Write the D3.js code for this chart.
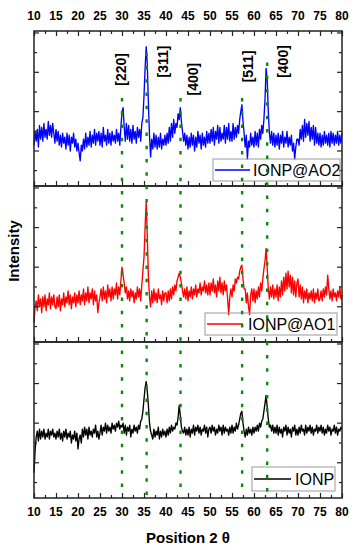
<!DOCTYPE html>
<html>
<head>
<meta charset="utf-8">
<script src="https://cdn.jsdelivr.net/npm/d3@7"></script>
<style>
  body { margin: 0; background: #fff; }
  svg { display: block; font-family: "Liberation Sans", Arial, sans-serif; }
</style>
</head>
<body>
<svg id="chart"></svg>
<script>
// sampling grid of the patterns (2 theta, degrees), one row = 5 degrees
const thetaStart = 10;
const thetaStep = 0.25;

// intensities (arbitrary units, one unit = one y tick)
const ionpAO2 = [
  1.3,2.0,1.5,2.1,1.2,2.3,1.6,2.2,1.5,2.4,1.7,2.1,1.6,2.5,1.8,2.3,1.7,2.4,1.9,1.4,
  2.1,1.5,2.0,1.3,1.8,1.2,1.9,1.4,1.7,1.1,1.9,1.3,1.8,1.0,1.7,1.4,1.9,1.2,1.6,1.0,
  1.4,0.9,0.5,1.3,1.0,1.6,1.1,1.9,1.2,1.7,1.3,2.0,1.2,1.8,1.4,2.1,1.3,1.9,1.5,2.0,
  1.3,1.9,1.2,2.2,1.5,1.8,1.3,2.1,1.4,1.9,1.3,2.0,1.5,1.8,1.4,2.1,1.5,1.9,1.3,2.2,
  3.0,3.2,2.2,1.5,2.4,1.6,2.3,1.5,2.1,1.4,2.3,1.6,2.0,1.4,2.2,1.7,2.1,1.5,2.4,2.7,
  3.8,5.2,6.3,5.4,3.4,1.8,0.7,1.6,1.1,1.9,1.2,1.8,1.1,1.7,1.2,1.9,1.1,1.6,1.3,1.8,
  1.3,1.9,1.4,2.2,1.5,2.4,1.7,2.6,1.9,2.4,2.2,2.9,2.6,3.2,2.5,2.0,1.5,1.9,1.3,1.8,
  1.1,1.7,1.2,1.9,1.3,1.8,1.0,1.7,1.2,2.0,1.4,1.8,1.1,1.9,1.3,1.7,1.2,2.0,1.4,1.9,
  1.4,2.1,1.5,2.2,1.3,2.0,1.6,2.3,1.4,2.2,1.5,1.9,1.6,2.3,1.4,2.2,1.6,2.4,1.5,2.0,
  1.5,2.4,1.6,2.2,1.7,2.3,1.9,2.6,3.0,3.35,2.5,1.9,1.2,1.8,0.6,1.5,1.2,1.9,1.3,1.7,
  1.2,2.0,1.3,1.9,1.2,2.1,1.6,2.3,1.9,2.6,3.6,5.2,4.6,3.0,1.9,1.4,2.0,1.3,1.9,1.2,
  1.8,1.3,1.9,1.1,1.8,1.4,2.0,1.2,1.7,1.4,2.0,1.2,1.7,1.3,1.8,1.0,1.4,0.6,1.2,1.6,
  1.6,1.3,2.1,1.6,2.3,1.5,2.6,1.7,2.4,1.8,2.5,1.5,2.2,1.6,2.3,1.3,2.2,1.4,1.9,1.3,
  1.9,1.2,1.8,1.3,2.0,1.4,1.8,1.3,1.9,1.2,2.0,1.4,1.9,1.3,1.8,1.4,2.0,1.3,1.8,1.4,
  1.9
];
const ionpAO1 = [
  0.2,1.0,1.3,0.8,1.6,1.0,1.4,0.7,1.5,1.0,1.6,0.8,1.4,1.1,1.7,0.9,1.5,1.1,1.6,1.0,
  0.9,1.5,1.0,1.6,0.8,1.4,1.1,1.7,1.0,1.5,1.2,1.8,1.1,1.6,0.9,1.5,1.2,1.7,1.0,1.6,
  1.2,1.8,1.1,1.6,1.3,1.9,1.1,1.7,1.3,2.0,1.2,1.7,1.4,1.9,1.1,1.8,1.3,1.6,0.7,1.2,
  1.5,1.9,1.3,2.0,1.4,1.8,1.2,2.1,1.5,1.9,1.3,2.0,1.4,1.9,1.6,2.2,1.4,2.0,1.6,2.3,
  3.0,2.6,2.2,1.7,2.0,1.4,1.8,1.3,1.9,1.5,1.8,1.2,1.7,1.4,2.0,1.5,1.9,1.3,2.1,2.8,
  3.5,5.0,6.3,4.6,2.5,1.5,1.0,1.8,1.2,1.9,1.3,1.7,1.2,1.9,1.4,1.6,1.1,1.8,1.3,1.7,
  1.7,1.2,1.8,1.3,1.9,1.4,2.0,1.6,2.1,1.8,2.3,2.5,2.7,2.5,2.2,1.8,1.5,1.9,1.4,2.0,
  1.3,1.8,1.5,2.0,1.4,1.9,1.6,2.1,1.5,1.9,1.7,2.2,1.6,2.0,1.8,2.3,1.7,2.1,1.6,2.2,
  1.6,2.2,1.8,2.4,1.7,2.1,1.5,2.3,1.8,2.5,1.7,2.2,1.6,2.3,1.8,2.1,1.4,0.6,1.5,1.9,
  1.5,2.1,1.8,2.4,2.2,2.5,2.4,2.8,3.0,3.1,2.4,1.9,1.9,1.2,1.7,1.0,0.6,1.6,1.9,1.3,
  1.9,1.2,1.8,1.4,2.0,1.5,2.2,1.8,2.4,2.9,3.3,3.95,3.0,1.9,1.4,2.0,1.5,2.1,1.4,1.9,
  1.5,2.1,1.3,2.0,1.5,2.3,1.6,2.5,1.8,2.7,1.9,2.8,2.0,2.6,1.7,2.5,1.6,2.3,1.5,2.2,
  2.4,1.5,2.1,1.4,2.0,1.2,1.8,1.4,1.9,1.2,1.7,1.4,1.8,1.3,1.9,1.2,1.7,1.4,1.9,1.3,
  1.4,1.8,1.3,1.9,1.5,2.0,1.6,2.6,1.9,1.4,1.8,1.3,1.9,1.5,1.7,1.3,1.8,1.5,2.0,1.4,
  1.6
];
const ionp = [
  0.5,1.6,2.3,2.6,2.1,2.7,2.2,2.6,2.3,2.7,2.2,2.5,2.3,2.7,2.2,2.6,2.4,2.7,2.3,2.5,
  2.2,2.6,2.3,2.7,2.2,2.5,2.1,2.6,2.3,2.7,2.2,2.5,2.3,2.6,2.0,2.4,2.2,2.6,2.1,2.5,
  1.7,2.2,2.4,2.0,2.7,2.3,2.8,2.4,2.7,2.2,2.8,2.4,2.6,2.3,2.7,2.5,2.9,2.3,2.6,2.2,
  2.5,2.9,2.4,2.8,2.6,3.0,2.5,2.9,2.6,2.8,2.5,3.0,2.7,2.9,2.6,3.0,2.8,3.1,2.7,2.9,
  2.8,3.0,2.5,2.9,2.4,2.8,2.6,2.9,2.3,2.7,2.5,2.9,2.6,2.8,2.5,2.9,2.7,3.1,3.2,3.6,
  4.2,4.8,5.1,4.6,3.9,3.0,2.6,2.4,2.2,2.7,2.3,2.6,2.4,2.8,2.2,2.6,2.3,2.7,2.4,2.6,
  2.3,2.7,2.4,2.8,2.5,2.9,2.6,2.8,2.7,3.0,2.9,3.3,3.9,3.4,2.8,2.6,2.5,2.8,2.4,2.7,
  2.4,2.8,2.3,2.7,2.5,2.9,2.4,2.8,2.6,2.9,2.5,2.8,2.4,2.7,2.6,2.9,2.5,2.8,2.3,2.7,
  2.8,2.5,2.9,2.6,2.8,2.4,2.7,2.5,2.9,2.6,2.8,2.4,2.9,2.5,2.8,2.6,2.7,2.4,2.8,2.5,
  2.9,2.5,2.8,2.6,3.0,2.7,2.9,3.2,3.5,3.6,3.0,2.6,2.3,2.7,2.4,2.8,2.5,2.7,2.4,2.8,
  2.5,2.8,2.6,2.9,2.6,3.0,2.8,3.1,3.2,3.6,4.0,4.4,3.8,3.2,2.8,2.9,2.6,2.9,2.5,2.8,
  2.5,2.9,2.4,2.8,2.5,2.7,2.3,2.8,2.6,2.9,2.4,2.8,2.5,2.7,2.3,2.8,2.6,2.9,2.4,2.7,
  2.4,2.8,2.5,2.9,2.6,2.7,2.4,2.9,2.5,2.8,2.6,2.9,2.5,2.8,2.4,2.7,2.6,2.9,2.5,2.8,
  2.6,2.9,2.5,2.8,2.4,2.7,2.5,2.9,2.6,2.8,2.4,2.7,2.6,2.9,2.5,2.8,2.4,2.7,2.6,2.8,
  2.7
];

const seriesNames = ["IONP@AO2", "IONP@AO1", "IONP"];
const seriesColors = ["#0000ff", "#ff0000", "#000000"];

// reflections
const peakTheta = [30.0, 35.6, 43.3, 57.3, 63.0];
const peakLabels = ["[220]", "[311]", "[400]", "[511]", "[400]"];
const peakLineTop = [3.7, 6.0, 3.7, 3.7, 5.5];      // top panel units
const peakLabelAt = [[29.8, 5.15], [39.3, 5.55], [46.1, 4.65], [58.6, 5.3], [66.6, 5.55]];

const xTicks = d3.range(10, 80.1, 5);
const xMinor = d3.range(12.5, 80, 5);
const yTicks = [0, 1, 2, 3, 4, 5, 6, 7];

const width = 358, height = 550;
const left = 34, right = 342;
const panelEdges = [31, 186, 342, 498];

const svg = d3.select("#chart").attr("width", width).attr("height", height);

const x = d3.scaleLinear().domain([10, 80]).range([left, right]);

const panels = [ionpAO2, ionpAO1, ionp].map((vals, i) => ({
  vals,
  name: seriesNames[i],
  color: seriesColors[i],
  y: d3.scaleLinear().domain([-0.78, 7.1]).range([panelEdges[i + 1], panelEdges[i]])
}));

const legendBoxes = [
  {x0: 213, x1: 340, y0: 159, y1: 181, lx0: 215, lx1: 250, tx: 253},
  {x0: 205, x1: 337, y0: 313, y1: 335, lx0: 207, lx1: 243, tx: 248},
  {x0: 252, x1: 335, y0: 467, y1: 491, lx0: 254, lx1: 291, tx: 295}
];

panels.forEach((p, i) => {
  const g = svg.append("g");
  const top = panelEdges[i], bot = panelEdges[i + 1];

  // data line
  const line = d3.line()
    .x((d, k) => x(thetaStart + k * thetaStep))
    .y(d => p.y(d));
  g.append("path")
    .datum(p.vals)
    .attr("d", line)
    .attr("fill", "none")
    .attr("stroke", p.color)
    .attr("stroke-width", 1.35)
    .attr("stroke-linejoin", "round");

  // y ticks, both sides, inside
  yTicks.forEach(t => {
    const len = t % 2 === 1 ? 5 : 3;
    const yy = p.y(t);
    g.append("line").attr("x1", left).attr("x2", left + len).attr("y1", yy).attr("y2", yy)
      .attr("stroke", "#222").attr("stroke-width", 1.2);
    g.append("line").attr("x1", right).attr("x2", right - len).attr("y1", yy).attr("y2", yy)
      .attr("stroke", "#222").attr("stroke-width", 1.2);
  });

  // x ticks at the panel bottom
  g.append("g").attr("transform", `translate(0,${bot})`)
    .call(d3.axisTop(x).tickValues(xTicks).tickSize(5).tickFormat(""))
    .call(a => a.select(".domain").remove());
  g.append("g").attr("transform", `translate(0,${bot})`)
    .call(d3.axisTop(x).tickValues(xMinor).tickSize(3).tickFormat(""))
    .call(a => a.select(".domain").remove());

  // frame
  g.append("rect").attr("x", left).attr("y", top).attr("width", right - left).attr("height", bot - top)
    .attr("fill", "none").attr("stroke", "#222").attr("stroke-width", 1.5);

  // legend
  const lb = legendBoxes[i];
  g.append("rect").attr("x", lb.x0).attr("y", lb.y0).attr("width", lb.x1 - lb.x0).attr("height", lb.y1 - lb.y0)
    .attr("fill", "none").attr("stroke", "#999").attr("stroke-width", 1);
  const ly = (lb.y0 + lb.y1) / 2;
  g.append("line").attr("x1", lb.lx0).attr("x2", lb.lx1).attr("y1", ly).attr("y2", ly)
    .attr("stroke", p.color).attr("stroke-width", 1.5);
  g.append("text").attr("x", lb.tx).attr("y", ly + 6).attr("font-size", 16).attr("fill", "#000")
    .text(p.name);
});

svg.selectAll(".tick line").attr("stroke", "#222").attr("stroke-width", 1.2);

// top x ticks pointing down
svg.append("g").attr("transform", `translate(0,${panelEdges[0]})`)
  .call(d3.axisBottom(x).tickValues(xTicks).tickSize(5).tickFormat(""))
  .call(a => a.select(".domain").remove())
  .selectAll("line").attr("stroke", "#222").attr("stroke-width", 1.2);
svg.append("g").attr("transform", `translate(0,${panelEdges[0]})`)
  .call(d3.axisBottom(x).tickValues(xMinor).tickSize(3).tickFormat(""))
  .call(a => a.select(".domain").remove())
  .selectAll("line").attr("stroke", "#222").attr("stroke-width", 1.2);

// tick labels top and bottom
[19.5, 516].forEach(by => {
  svg.append("g").selectAll("text").data(xTicks).join("text")
    .attr("x", d => x(d)).attr("y", by)
    .attr("text-anchor", "middle").attr("font-size", 12).attr("font-weight", "bold")
    .text(d => d);
});

// reflection lines, dotted
const yTop = panels[0].y;
svg.append("g").selectAll("line").data(peakTheta).join("line")
  .attr("x1", d => x(d)).attr("x2", d => x(d))
  .attr("y1", (d, i) => yTop(peakLineTop[i])).attr("y2", panelEdges[3] - 1)
  .attr("stroke", "#0a8a0a").attr("stroke-width", 2.4)
  .attr("stroke-dasharray", "3.5,9.8");

svg.append("g").selectAll("text").data(peakLabels).join("text")
  .attr("transform", (d, i) => `translate(${x(peakLabelAt[i][0])},${yTop(peakLabelAt[i][1])}) rotate(-90)`)
  .attr("text-anchor", "middle").attr("dominant-baseline", "central")
  .attr("font-size", 14).attr("font-weight", "bold")
  .text(d => d);

// axis titles
svg.append("text").attr("x", 188).attr("y", 543).attr("text-anchor", "middle")
  .attr("font-size", 15).attr("font-weight", "bold").text("Position 2 θ");
svg.append("text").attr("transform", "translate(19,251) rotate(-90)").attr("text-anchor", "middle")
  .attr("font-size", 15).attr("font-weight", "bold").text("Intensity");
</script>
</body>
</html>
